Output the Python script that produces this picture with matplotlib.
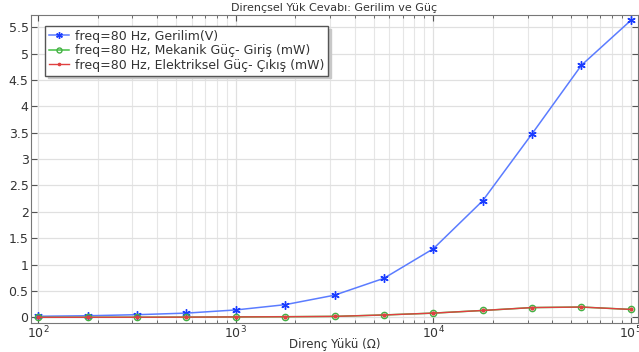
import matplotlib
matplotlib.use("Agg")
import matplotlib.pyplot as plt
from matplotlib.ticker import FuncFormatter, LogLocator, MultipleLocator

# Load resistance (ohm), logarithmically spaced
resistance = [100, 178, 316, 562, 1000, 1778, 3162, 5623, 10000, 17783, 31623, 56234, 100000]
voltage = [0.02, 0.03, 0.05, 0.08, 0.14, 0.24, 0.42, 0.74, 1.30, 2.21, 3.48, 4.78, 5.63]
mech_power = [0.0, 0.001, 0.002, 0.004, 0.008, 0.012, 0.018, 0.045, 0.08, 0.13, 0.185, 0.195, 0.15]
elec_power = [0.0, 0.001, 0.002, 0.004, 0.008, 0.012, 0.018, 0.045, 0.08, 0.13, 0.185, 0.195, 0.15]

plt.rcParams['font.family'] = ['DejaVu Sans']
text_color = '#333333'

fig = plt.figure(figsize=(6.39, 3.52), dpi=100)
ax = fig.add_axes([0.049, 0.082, 0.949, 0.875])

ax.plot(resistance, voltage, color='#5b7cff', lw=1.1, marker=(6, 2, 0), ms=6, mew=1.0,
        mec='#1a3cff', label='freq=80 Hz, Gerilim(V)')
ax.plot(resistance, mech_power, color='#44c044', lw=1.1, marker='o', ms=4.5,
        mfc='none', mec='#44b044', label='freq=80 Hz, Mekanik Güç- Giriş (mW)')
ax.plot(resistance, elec_power, color='#e04040', lw=1.0, marker='.', ms=4,
        label='freq=80 Hz, Elektriksel Güç- Çıkış (mW)')

ax.set_xscale('log')
ax.set_xlim(10 ** 1.965, 10 ** 5.035)
ax.set_ylim(-0.11, 5.73)
ax.yaxis.set_major_locator(MultipleLocator(0.5))
ax.yaxis.set_major_formatter(FuncFormatter(lambda v, p: f'{v:g}'))
ax.xaxis.set_major_locator(LogLocator(base=10))
ax.xaxis.set_minor_locator(LogLocator(base=10, subs=range(2, 10)))

ax.grid(which='major', color='#e0e0e0', lw=0.9)
ax.grid(which='minor', axis='x', color='#e6e6e6', lw=0.8)
ax.set_axisbelow(True)
ax.tick_params(which='both', direction='in', top=True, right=True, labelsize=9,
               color='#555555', labelcolor=text_color, pad=2)
ax.tick_params(axis='x', pad=1)
ax.tick_params(which='major', length=4)
ax.tick_params(which='minor', length=2)
for s in ax.spines.values():
    s.set_color('#777777')
    s.set_linewidth(0.8)

ax.set_title('Dirençsel Yük Cevabı: Gerilim ve Güç', fontsize=8, pad=3, color=text_color)
ax.set_xlabel('Direnç Yükü (Ω)', fontsize=8.5, labelpad=-2, color=text_color)

leg = ax.legend(loc='upper left', fontsize=9, frameon=True, fancybox=False,
                shadow={'color': '#c8c8c8', 'alpha': 1}, borderpad=0.3,
                labelspacing=0.12, handlelength=1.6, handletextpad=0.5,
                markerscale=0.8, bbox_to_anchor=(0.012, 0.985))
leg.get_frame().set_edgecolor('#555555')
for t in leg.get_texts():
    t.set_color(text_color)

fig.savefig('out.png', dpi=100)
